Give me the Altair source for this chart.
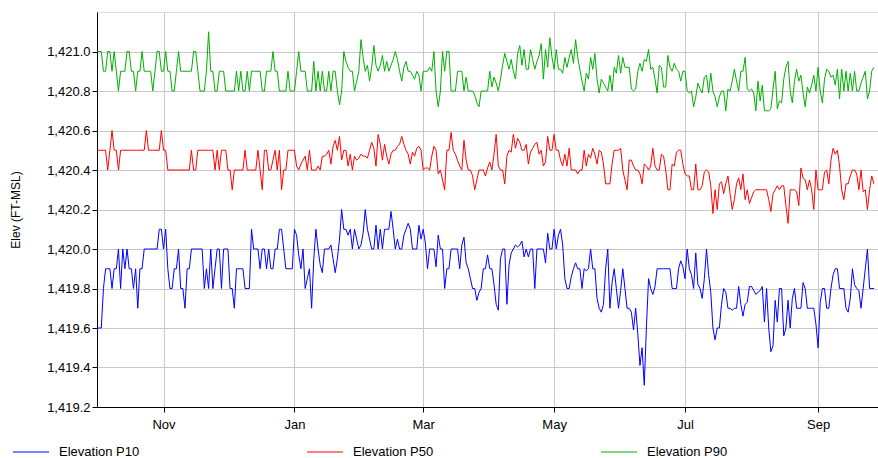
import altair as alt
import pandas as pd

series_names = ["Elevation P10", "Elevation P50", "Elevation P90"]
series_colors = ["#0000ff", "#ff0000", "#00b000"]

p90 = [
    1421.0,1421.0,1421.0,1420.9,1420.9,1421.0,1421.0,1420.9,1421.0,1420.9,
    1420.8,1420.9,1420.9,1420.9,1421.0,1421.0,1420.9,1420.9,1420.8,1420.9,
    1420.9,1421.0,1420.9,1420.9,1420.9,1420.9,1420.8,1420.9,1421.0,1421.0,
    1420.9,1420.9,1421.0,1420.9,1420.9,1420.8,1420.8,1420.9,1421.0,1420.9,
    1420.9,1420.9,1420.9,1420.9,1420.9,1421.0,1421.0,1420.9,1420.8,1420.8,
    1420.8,1420.9,1421.1,1420.9,1420.9,1420.8,1420.8,1420.9,1420.9,1420.9,
    1420.8,1420.8,
    1420.8,1420.8,1420.8,1420.9,1420.8,1420.9,1420.8,1420.8,1420.9,1420.8,
    1420.9,1420.9,1420.9,1420.9,1420.9,1420.8,1420.8,1420.9,1420.9,1420.9,
    1421.0,1420.9,1420.9,1420.8,1420.8,1420.8,1420.8,1420.9,1420.8,1420.8,
    1420.8,1420.9,1421.0,1420.9,1420.9,1420.9,1420.8,1420.8,1420.8,1420.95,
    1420.8,1420.9,1420.8,1420.9,1420.8,1420.8,1420.9,1420.8,1420.9,1420.9,
    1420.8,1420.73,1420.8,1421.0,1420.95,1420.92,1420.9,1420.9,1420.8,1420.85,
    1420.9,
    1421.06,1420.97,1420.9,1420.93,1420.85,1420.92,1421.03,1420.93,1420.9,1420.93,
    1420.98,1420.9,1420.95,1420.9,1420.93,1420.96,1421.0,1420.96,1420.9,1420.85,
    1420.92,1420.95,1420.9,1420.9,1420.88,1420.86,1420.9,1420.88,1420.8,1420.9,
    1420.9,1420.9,1420.92,1420.9,1421.0,1420.8,1420.72,1420.8,1421.0,1420.9,
    1421.0,1421.0,1420.8,1420.8,1420.8,1420.9,1420.9,1420.9,1420.8,1420.87,
    1420.8,1420.8,1420.8,1420.78,1420.74,1420.72,1420.8,1420.8,1420.8,1420.8,
    1420.9,1420.82,1420.87,1420.84,1420.8,1420.86,1420.93,1420.99,1420.95,1420.91,
    1420.96,1420.9,1420.86,1420.99,1421.03,1420.93,1421.01,1420.91,1420.91,1421.01,
    1420.96,1420.91,1420.95,1420.98,1421.04,1420.86,1421.01,1420.92,1421.07,1420.97,
    1420.91,1421.01,1420.91,1420.91,1420.89,1420.97,1420.92,1420.97,1421.01,1420.94,
    1421.06,1420.97,1420.91,1420.85,1420.8,1420.89,1420.86,1420.97,1420.91,1420.99,
    1420.86,1420.79,1420.86,1420.84,1420.82,1420.8,1420.88,1420.8,1420.92,1420.89,
    1420.98,
    1420.89,1420.97,1420.92,1420.92,1420.92,1420.81,1420.8,1420.81,1420.9,1420.94,
    1420.9,1420.96,1420.95,1421.01,1420.91,1420.92,1420.86,1420.79,1420.93,1420.92,
    1420.82,1420.82,1420.98,1420.92,1420.9,1420.94,1420.91,1420.9,1420.85,1420.9,
    1420.9,1420.8,1420.79,1420.8,1420.72,1420.77,1420.84,1420.81,1420.79,1420.87,
    1420.88,1420.79,1420.89,1420.8,1420.77,1420.72,1420.77,1420.8,1420.8,1420.7,
    1420.81,1420.8,1420.85,1420.91,1420.85,1420.8,1420.9,1420.9,1420.97,1420.81,
    1420.8,1420.81,1420.79,1420.7,1420.85,1420.75,1420.83,1420.7,1420.7,1420.7,
    1420.71,1420.81,1420.9,1420.71,1420.75,1420.74,1420.86,1420.92,1420.95,1420.8,
    1420.74,1420.85,1420.91,1420.85,1420.88,1420.79,1420.72,1420.82,1420.79,1420.83,
    1420.88,1420.8,1420.92,1420.8,1420.74,1420.86,1420.91,1420.9,1420.87,1420.88,
    1420.83,1420.91,1420.76,1420.91,1420.8,1420.9,1420.8,1420.89,1420.8,1420.9,
    1420.8,1420.8,1420.84,1420.87,1420.9,1420.76,1420.8,1420.9,1420.92,
]

p50 = [
    1420.5,1420.5,1420.5,1420.5,1420.5,1420.4,1420.5,1420.6,1420.5,1420.5,
    1420.4,1420.5,1420.5,1420.5,1420.5,1420.5,1420.5,1420.5,1420.5,1420.5,
    1420.5,1420.5,1420.5,1420.6,1420.5,1420.5,1420.5,1420.5,1420.5,1420.5,
    1420.6,1420.5,1420.5,1420.4,1420.4,1420.4,1420.4,1420.4,1420.4,1420.4,
    1420.4,1420.4,1420.4,1420.4,1420.5,1420.4,1420.4,1420.5,1420.5,1420.5,
    1420.5,1420.5,1420.5,1420.5,1420.5,1420.4,1420.5,1420.4,1420.5,1420.5,
    1420.5,1420.4,
    1420.4,1420.3,1420.4,1420.4,1420.4,1420.4,1420.4,1420.5,1420.4,1420.4,
    1420.4,1420.4,1420.4,1420.5,1420.4,1420.3,1420.5,1420.5,1420.4,1420.4,
    1420.45,1420.5,1420.4,1420.5,1420.3,1420.4,1420.4,1420.5,1420.5,1420.5,
    1420.5,1420.42,1420.4,1420.43,1420.45,1420.47,1420.4,1420.5,1420.4,1420.4,
    1420.4,1420.42,1420.4,1420.47,1420.47,1420.48,1420.5,1420.43,1420.52,1420.55,
    1420.5,1420.57,1420.45,1420.5,1420.5,1420.42,1420.48,1420.4,1420.47,1420.45,
    1420.46,
    1420.48,1420.47,1420.47,1420.46,1420.5,1420.54,1420.51,1420.42,1420.58,1420.53,
    1420.45,1420.53,1420.47,1420.43,1420.48,1420.5,1420.5,1420.52,1420.53,1420.57,
    1420.53,1420.5,1420.48,1420.43,1420.49,1420.47,1420.51,1420.52,1420.5,1420.4,
    1420.41,1420.41,1420.4,1420.47,1420.52,1420.5,1420.38,1420.4,1420.35,1420.3,
    1420.5,1420.5,1420.59,1420.5,1420.48,1420.45,1420.42,1420.4,1420.55,1420.45,
    1420.4,1420.4,1420.37,1420.3,1420.35,1420.4,1420.4,1420.4,1420.37,1420.41,
    1420.44,1420.4,1420.48,1420.58,1420.42,1420.4,1420.4,1420.33,1420.47,1420.5,
    1420.49,1420.58,1420.51,1420.56,1420.54,1420.5,1420.5,1420.53,1420.43,1420.49,
    1420.51,1420.53,1420.54,1420.48,1420.5,1420.42,1420.44,1420.57,1420.5,1420.5,
    1420.58,1420.5,1420.5,1420.45,1420.42,1420.48,1420.42,1420.51,1420.4,1420.4,
    1420.4,1420.38,1420.4,1420.4,1420.5,1420.42,1420.48,1420.46,1420.51,1420.48,
    1420.43,1420.5,1420.49,1420.43,1420.33,1420.33,1420.33,1420.43,1420.5,1420.5,
    1420.5,
    1420.51,1420.4,1420.35,1420.3,1420.45,1420.45,1420.42,1420.4,1420.4,1420.38,
    1420.33,1420.43,1420.42,1420.4,1420.42,1420.51,1420.42,1420.4,1420.4,1420.48,
    1420.47,1420.4,1420.3,1420.3,1420.43,1420.42,1420.49,1420.5,1420.5,1420.43,
    1420.38,1420.37,1420.37,1420.3,1420.3,1420.43,1420.3,1420.3,1420.32,1420.39,
    1420.4,1420.39,1420.32,1420.18,1420.3,1420.2,1420.33,1420.34,1420.28,1420.33,
    1420.37,1420.28,1420.2,1420.25,1420.33,1420.36,1420.3,1420.38,1420.25,1420.3,
    1420.23,1420.26,1420.29,1420.3,1420.3,1420.3,1420.3,1420.3,1420.3,1420.25,
    1420.19,1420.28,1420.3,1420.32,1420.3,1420.32,1420.32,1420.22,1420.13,1420.3,
    1420.3,1420.3,1420.29,1420.22,1420.41,1420.36,1420.35,1420.3,1420.35,1420.3,
    1420.2,1420.4,1420.3,1420.3,1420.3,1420.39,1420.4,1420.33,1420.45,1420.51,
    1420.48,1420.5,1420.42,1420.3,1420.25,1420.33,1420.33,1420.37,1420.4,1420.4,
    1420.38,1420.3,1420.4,1420.29,1420.3,1420.2,1420.3,1420.37,1420.33,
]

p10 = [
    1419.6,1419.6,1419.6,1419.8,1419.9,1419.9,1419.9,1419.8,1419.9,1419.9,
    1420.0,1419.8,1420.0,1419.9,1420.0,1419.9,1419.9,1419.8,1419.9,1419.7,
    1419.9,1419.9,1420.0,1420.0,1420.0,1420.0,1420.0,1420.0,1420.0,1420.1,
    1420.1,1420.0,1420.1,1419.9,1419.8,1419.8,1419.9,1419.9,1420.0,1419.8,
    1419.8,1419.7,1419.9,1419.9,1420.0,1420.0,1420.0,1420.0,1420.0,1420.0,
    1419.8,1419.9,1419.8,1420.0,1419.8,1419.9,1420.0,1420.0,1419.8,1420.0,
    1420.0,1420.0,
    1419.8,1419.8,1419.7,1419.9,1419.9,1419.9,1419.9,1419.8,1419.8,1419.8,
    1420.1,1420.0,1420.0,1420.0,1419.9,1420.0,1420.0,1419.9,1420.0,1419.9,
    1419.9,1420.0,1420.0,1420.1,1420.1,1420.0,1419.9,1419.9,1419.9,1419.9,
    1420.1,1420.07,1419.97,1419.9,1420.0,1419.8,1419.85,1419.9,1419.7,1419.95,
    1420.1,1420.0,1419.92,1419.88,1420.0,1420.0,1420.0,1420.02,1419.95,1419.88,
    1419.95,1420.05,1420.2,1420.1,1420.1,1420.07,1420.1,1420.0,1420.1,1420.05,
    1420.0,
    1420.02,1420.08,1420.2,1420.1,1420.05,1420.0,1420.0,1420.12,1420.0,1420.1,
    1420.0,1420.1,1420.1,1420.1,1420.19,1420.1,1420.0,1420.05,1420.0,1420.0,
    1420.07,1420.1,1420.13,1420.1,1420.0,1420.0,1420.0,1420.12,1420.05,1420.1,
    1420.03,1419.9,1420.0,1420.0,1420.0,1419.91,1420.07,1420.0,1420.0,1419.8,
    1419.9,1419.9,1420.0,1420.0,1420.0,1420.0,1419.9,1420.02,1420.06,1419.93,
    1419.9,1419.85,1419.8,1419.8,1419.74,1419.78,1419.8,1419.9,1419.9,1419.97,
    1419.9,1419.9,1419.82,1419.72,1419.69,1419.95,1420.0,1420.0,1419.72,1419.92,
    1419.98,1420.0,1420.02,1420.01,1420.02,1420.04,1419.96,1420.0,1419.96,1420.0,
    1420.0,1419.8,1420.0,1420.0,1420.0,1420.0,1419.93,1420.08,1420.0,1420.0,
    1420.1,1420.0,1420.07,1420.1,1420.02,1419.85,1419.8,1419.8,1419.86,1419.9,
    1419.93,1419.9,1419.9,1419.8,1419.9,1419.89,1419.9,1420.0,1419.9,1419.9,
    1419.75,1419.7,1419.68,1419.72,1419.9,1420.0,1419.7,1419.83,1419.9,1419.8,
    1419.7,
    1419.79,1419.9,1419.8,1419.7,1419.7,1419.68,1419.59,1419.7,1419.57,1419.41,
    1419.5,1419.31,1419.6,1419.85,1419.8,1419.77,1419.81,1419.9,1419.9,1419.9,
    1419.9,1419.9,1419.9,1419.9,1419.8,1419.8,1419.8,1419.9,1419.94,1419.91,
    1419.85,1420.0,1419.9,1419.87,1419.8,1419.98,1419.82,1419.8,1419.75,1419.85,
    1420.0,1419.87,1419.78,1419.6,1419.54,1419.6,1419.6,1419.72,1419.8,1419.78,
    1419.7,1419.7,1419.69,1419.7,1419.7,1419.81,1419.72,1419.66,1419.72,1419.73,
    1419.81,1419.81,1419.79,1419.77,1419.78,1419.79,1419.81,1419.63,1419.8,1419.6,
    1419.48,1419.51,1419.74,1419.63,1419.8,1419.8,1419.56,1419.6,1419.74,1419.6,
    1419.75,1419.8,1419.7,1419.7,1419.7,1419.83,1419.8,1419.7,1419.7,1419.7,
    1419.7,1419.62,1419.5,1419.73,1419.8,1419.8,1419.7,1419.7,1419.8,1419.87,
    1419.9,1419.9,1419.8,1419.8,1419.8,1419.7,1419.68,1419.75,1419.9,1419.82,
    1419.8,1419.79,1419.7,1419.8,1419.9,1420.0,1419.8,1419.8,1419.8,
]

y_ticks = [1419.2, 1419.4, 1419.6, 1419.8, 1420.0, 1420.2, 1420.4, 1420.6, 1420.8, 1421.0]

dates = list(pd.date_range("2023-10-01", periods=len(p10), freq="D").strftime("%Y-%m-%d"))
df = pd.DataFrame({
    "date": dates * 3,
    "elev": p10 + p50 + p90,
    "series": [series_names[0]] * len(p10) + [series_names[1]] * len(p50) + [series_names[2]] * len(p90),
})

FONT = "Liberation Sans"

month_ticks = [
    alt.DateTime(year=2023, month=11, date=1, utc=True),
    alt.DateTime(year=2024, month=1, date=1, utc=True),
    alt.DateTime(year=2024, month=3, date=1, utc=True),
    alt.DateTime(year=2024, month=5, date=1, utc=True),
    alt.DateTime(year=2024, month=7, date=1, utc=True),
    alt.DateTime(year=2024, month=9, date=1, utc=True),
]

chart = alt.Chart(df).mark_line(strokeWidth=1, interpolate="linear").encode(
    x=alt.X(
        "date:T",
        title=None,
        scale=alt.Scale(
            type="utc",
            domain=[
                alt.DateTime(year=2023, month=10, date=1, utc=True),
                alt.DateTime(year=2024, month=9, date=28, hours=22, utc=True),
            ],
        ),
        axis=alt.Axis(
            values=month_ticks, format="%b", labelFontSize=13, labelColor="#000000",
            labelFont=FONT, labelPadding=6, tickSize=5, tickColor="#000000",
            domainColor="#000000", grid=True, gridColor="#c8c8c8",
        ),
    ),
    y=alt.Y(
        "elev:Q",
        title="Elev (FT-MSL)",
        scale=alt.Scale(domain=[1419.2, 1421.2], nice=False, zero=False),
        axis=alt.Axis(
            values=y_ticks, format=",.1f", labelFontSize=13, labelColor="#000000",
            labelFont=FONT, tickSize=5, tickColor="#000000", domainColor="#000000",
            grid=True, gridColor="#c8c8c8", titleFont=FONT, titleFontSize=12,
            titleFontWeight="normal", titleColor="#000000", titlePadding=24,
        ),
    ),
    color=alt.Color(
        "series:N",
        scale=alt.Scale(domain=series_names, range=series_colors),
        legend=alt.Legend(
            orient="none", legendX=-85, legendY=432, direction="horizontal", title=None,
            symbolType="stroke", symbolSize=1300, symbolStrokeWidth=1, clipHeight=16,
            labelFontSize=13, labelFont=FONT, labelColor="#000000", labelOffset=9,
            columnPadding=166, padding=0,
        ),
    ),
).properties(
    width=781,
    height=395,
    padding={"left": 97, "top": 12, "right": 0, "bottom": 51},
    autosize=alt.AutoSizeParams(type="none"),
).configure_view(stroke=None).configure(background="#ffffff")

chart.save("out.html", embed_options={"renderer": "svg", "actions": False})
